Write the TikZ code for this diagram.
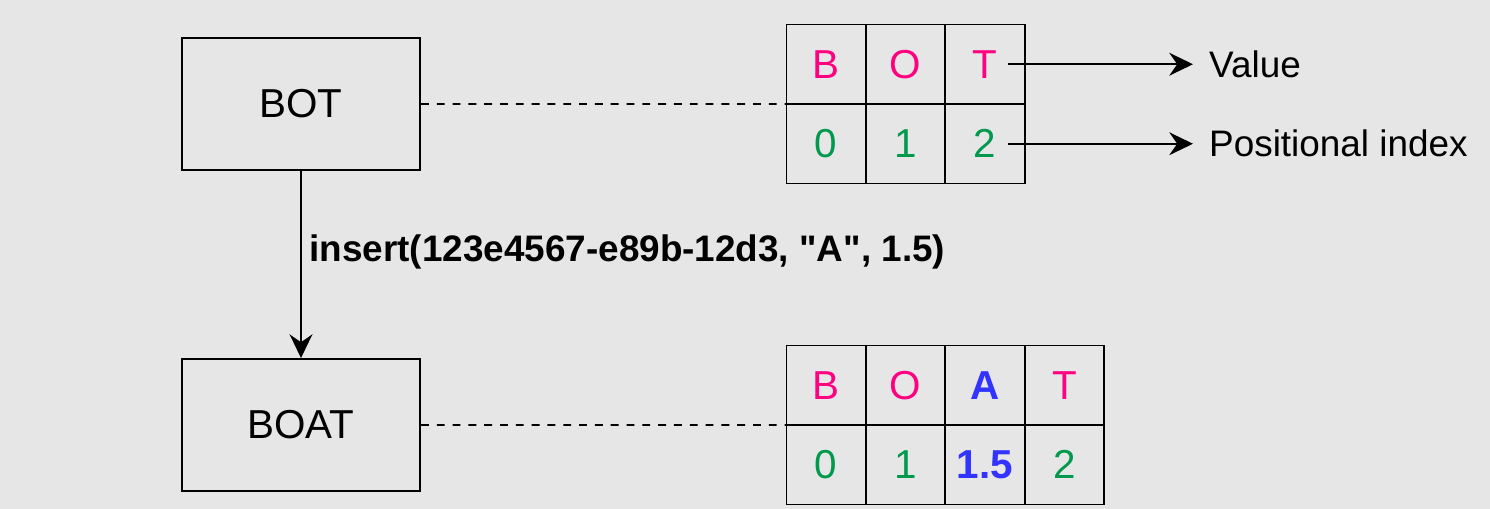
\documentclass[tikz,border=0pt]{standalone}
\usepackage{fontspec}
\setmainfont{Liberation Sans}
\newfontfamily\opfont{Liberation Sans}
\usetikzlibrary{arrows.meta,positioning}
\definecolor{bgGray}{HTML}{E6E6E6}
\definecolor{valPink}{HTML}{FF0080}
\definecolor{idxGreen}{HTML}{00994D}
\definecolor{newBlue}{HTML}{3333FF}
\tikzset{strbox/.style={draw=black,line width=1.1pt,minimum width=4.76cm,minimum height=2.64cm,inner sep=0pt,font=\fontsize{23}{27}\selectfont},cell/.style={draw=black,line width=1.1pt,minimum width=1.588cm,minimum height=1.59cm,inner sep=0pt,outer sep=0pt,font=\fontsize{23}{27}\selectfont},valcell/.style={cell,text=valPink},idxcell/.style={cell,text=idxGreen},newcell/.style={cell,text=newBlue,font=\fontsize{23}{27}\selectfont\bfseries},edge/.style={-{Stealth[length=13.5pt,width=13pt,inset=4.5pt]},line width=1.1pt},link/.style={line width=1.1pt,dash pattern=on 4.5pt off 4.5pt},note/.style={anchor=west,inner xsep=9pt,inner ysep=2pt,font=\fontsize{21}{25}\selectfont},oplabel/.style={anchor=base west,inner sep=0pt,font=\opfont\fontsize{21}{25}\selectfont\bfseries}}

\begin{document}
\begin{tikzpicture}[x=0.02cm,y=-0.02cm]
\fill[bgGray] (0,0) rectangle (1490,509);
\node[strbox] (bot) at (301,104) {BOT};
\node[strbox] (boat) at (301,425) {BOAT};
% string before the insert
\node[valcell] (tB) at (826.2,64.25) {B};
\node[valcell] (tO) at (905.6,64.25) {O};
\node[valcell] (tT) at (985,64.25) {T};
\node[idxcell] (t0) at (826.2,143.75) {0};
\node[idxcell] (t1) at (905.6,143.75) {1};
\node[idxcell] (t2) at (985,143.75) {2};
% string after the insert
\node[valcell] (bB) at (826.2,385.25) {B};
\node[valcell] (bO) at (905.6,385.25) {O};
\node[newcell] (bA) at (985,385.25) {A};
\node[valcell] (bT) at (1064.4,385.25) {T};
\node[idxcell] (b0) at (826.2,464.75) {0};
\node[idxcell] (b1) at (905.6,464.75) {1};
\node[newcell] (b15) at (985,464.75) {1.5};
\node[idxcell] (b2) at (1064.4,464.75) {2};
\node[note] (value) at (1193,64.25) {Value};
\node[note] (posidx) at (1193,143.75) {Positional index};
\node[oplabel] (op) at (309,262) {insert(123e4567-e89b-12d3, "A", 1.5)};
\draw[edge] (bot)--(boat);
\draw[link] (bot.east)--(tB.south west);
\draw[link] (boat.east)--(bB.south west);
\draw[edge] ([xshift=0.46cm]tT.center)--(value.west);
\draw[edge] ([xshift=0.46cm]t2.center)--(posidx.west);
\end{tikzpicture}
\end{document}
